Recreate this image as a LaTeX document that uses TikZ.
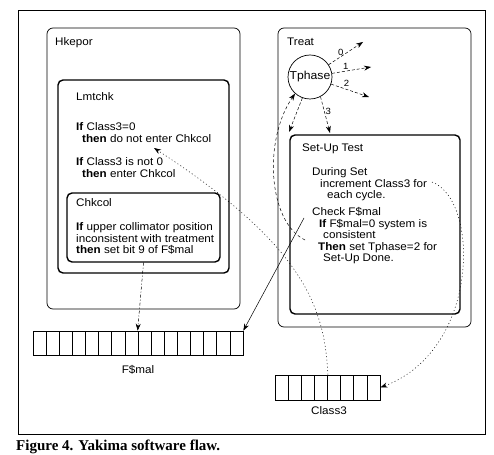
\documentclass[tikz,border=0pt]{standalone}
\usepackage{fontspec}
\setmainfont{Liberation Serif}
\setsansfont{Liberation Sans}[FakeStretch=1.06]
\usetikzlibrary{arrows.meta}

\begin{document}
\begin{tikzpicture}[x=1pt, y=-1pt, font=\sffamily\fontsize{11}{11.5}\selectfont]%
  \tikzset{outer box/.style={draw, rounded corners=6pt, line width=0.7pt, minimum width=193pt},
    inner box/.style={draw, rounded corners=5pt, line width=1.4pt},
    cell/.style={draw, line width=0.7pt, minimum width=13.125pt, minimum height=24pt, inner sep=0pt},
    flow arrow/.style={-{Stealth[length=7pt,width=5pt]}, line width=0.5pt},
    txt/.style={anchor=north west, align=left, inner sep=0pt},
    num/.style={font=\sffamily\fontsize{9}{9}\selectfont, inner sep=1pt}}
  \useasboundingbox (0,0) rectangle (494,454);

  % frame and caption
  \draw[line width=0.6pt] (18,10) rectangle (485,434);
  \node[anchor=base west, inner sep=0pt, font=\rmfamily\bfseries\fontsize{15}{15}\selectfont] (caption) at (16,450) {Figure 4. Yakima software flaw.};

  % modules
  \node[outer box, minimum height=281pt] (hkepor) at (143.5,168.5) {};
  \node[outer box, minimum height=299pt] (treat) at (374.5,177.5) {};
  \node[inner box, minimum width=171pt, minimum height=193pt] (lmtchk) at (143.5,176.5) {};
  \node[inner box, minimum width=153pt, minimum height=69pt] (chkcol) at (143.5,227.5) {};
  \node[inner box, minimum width=170pt, minimum height=179pt] (setup) at (375,224.5) {};
  \node[circle, draw, line width=0.7pt, minimum size=44pt, inner sep=0pt, font=\sffamily\fontsize{11.5}{12}\selectfont] (tphase) at (310,77) {Tphase};

  \node[txt] (hkeporT) at (55,37.5) {Hkepor};
  \node[txt] (treatT) at (287,37.5) {Treat};
  \node[txt] (lmtT) at (76,92.5) {Lmtchk};
  \node[txt] (lmtA) at (76,122.5) {\textbf{If} Class3=0\\[0.5pt]\hspace*{6pt}\textbf{then} do not enter Chkcol};
  \node[txt] (lmtB) at (76,157.5) {\textbf{If} Class3 is not 0\\\hspace*{6pt}\textbf{then} enter Chkcol};
  \node[txt] (chkT) at (76,198.5) {Chkcol};
  \node[txt] (chkA) at (76,222.5) {\textbf{If} upper collimator position\\inconsistent with treatment\\\textbf{then} set bit 9 of F\$mal};
  \node[txt] (setT) at (302,143.5) {Set-Up Test};
  \node[txt] (setA) at (312,167.5) {During Set\\\hspace*{8pt}increment Class3 for\\\hspace*{15pt}each cycle.};
  \node[txt] (setB) at (312,207.5) {Check F\$mal\\\hspace*{7pt}\textbf{If} F\$mal=0 system is\\\hspace*{11pt}consistent\\\hspace*{6pt}\textbf{Then} set Tphase=2 for\\\hspace*{11pt}Set-Up Done.};

  % registers
  \foreach \i in {0,...,15}
    \node[cell] (fmal-\i) at (39.5625+13.125*\i,343) {};
  \foreach \i in {0,...,7}
    \node[cell, minimum height=25pt] (class3-\i) at (281.5625+13.125*\i,387.5) {};
  \node (fmalT) at (138,370) {F\$mal};
  \node (class3T) at (329,411) {Class3};

  % end points
  \coordinate (out0) at (363,42);
  \coordinate (out1) at (371,67);
  \coordinate (out2) at (369,97);
  \coordinate (in3) at (330,133);
  \coordinate (inL) at (289,132);
  \coordinate (rdC3) at (154,148);
  \coordinate (setP) at (305,240);
  \coordinate (chkF) at (304,218);
  \coordinate (incC3) at (432,182);

  % connectors
  \draw[flow arrow, dash pattern=on 3pt off 2pt] (tphase) -- node[num, above, pos=0.35] {0} (out0);
  \draw[flow arrow, dash pattern=on 3pt off 2pt] (tphase) -- node[num, above, pos=0.35] {1} (out1);
  \draw[flow arrow, dash pattern=on 3pt off 2pt] (tphase) -- node[num, above right, pos=0.3] {2} (out2);
  \draw[flow arrow, dash pattern=on 3pt off 2pt] (tphase.-62) -- node[num, right, pos=0.4] {3} (in3);
  \draw[flow arrow, dash pattern=on 3pt off 2pt] (tphase.-110) -- (inL);
  \draw[flow arrow, dash pattern=on 3pt off 2.5pt] (setP) .. controls (268,222) and (263,140) .. (tphase.-132);
  \draw[flow arrow, dash pattern=on 1pt off 2.5pt] (class3-3.north east) .. controls (325,300) and (295,240) .. (rdC3);
  \draw[flow arrow, dash pattern=on 1pt off 2.5pt] (incC3) .. controls (480,200) and (480,350) .. (class3-7.east);
  \draw[flow arrow] (chkF) -- (fmal-15.north east);
  \draw[flow arrow, dash pattern=on 3pt off 2pt on 1pt off 2pt] (chkcol.south) -- (fmal-8.north west);
\end{tikzpicture}
\end{document}
